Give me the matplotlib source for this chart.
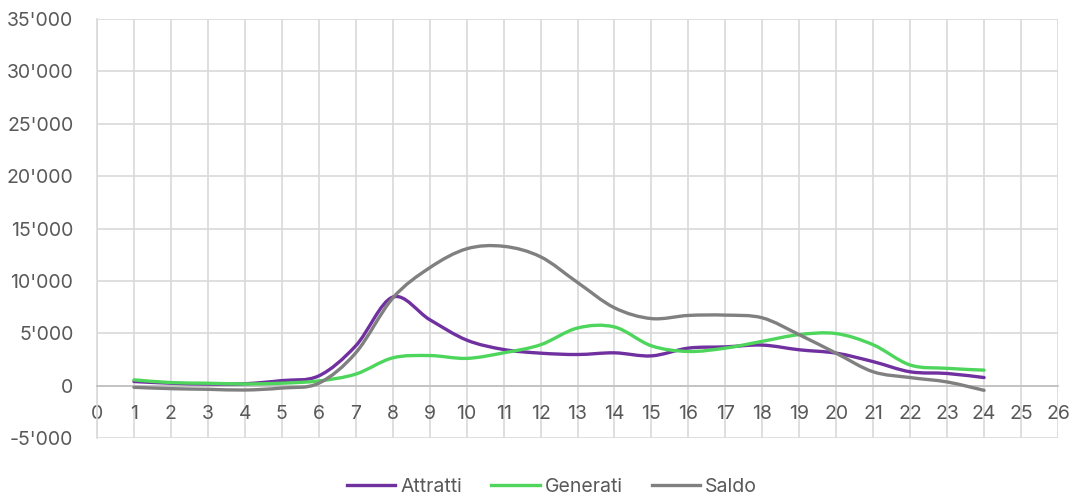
import numpy as np
import matplotlib
matplotlib.use("Agg")
from matplotlib import pyplot as plt
from matplotlib.path import Path
from matplotlib.patches import PathPatch
from matplotlib.lines import Line2D
from matplotlib.ticker import FuncFormatter

plt.rcParams['font.family'] = ['Inter', 'DejaVu Sans']

hours = [1, 2, 3, 4, 5, 6, 7, 8, 9, 10, 11, 12,
         13, 14, 15, 16, 17, 18, 19, 20, 21, 22, 23, 24]
attratti = [390, 230, 150, 180, 480, 930, 3800, 8450, 6300, 4350, 3450, 3100,
            2970, 3130, 2840, 3580, 3700, 3870, 3420, 3100, 2290, 1320, 1160, 770]
generati = [550, 290, 230, 160, 230, 450, 1100, 2650, 2870, 2600, 3130, 3900,
            5500, 5600, 3800, 3260, 3580, 4230, 4870, 4970, 3900, 1970, 1650, 1480]
saldo = [-160, -290, -350, -420, -230, 230, 3130, 8350, 11250, 13060, 13300, 12300,
         9850, 7430, 6400, 6700, 6730, 6470, 4860, 3090, 1320, 770, 350, -450]

series = [("Attratti", attratti, "#7030A0"),
          ("Generati", generati, "#4ED55C"),
          ("Saldo", saldo, "#808080")]


def smooth_path(x, y):
    # Excel style smoothed line: cubic bezier through the points
    pts = np.column_stack([x, y]).astype(float)
    n = len(pts)
    verts = [pts[0]]
    codes = [Path.MOVETO]
    for i in range(n - 1):
        p0 = pts[i - 1] if i > 0 else pts[i]
        p1 = pts[i]
        p2 = pts[i + 1]
        p3 = pts[i + 2] if i + 2 < n else pts[i + 1]
        c1 = p1 + (p2 - p0) / 6.0
        c2 = p2 - (p3 - p1) / 6.0
        verts += [c1, c2, p2]
        codes += [Path.CURVE4] * 3
    return Path(verts, codes)


fig = plt.figure(figsize=(10.76, 4.99), dpi=100)
ax = fig.add_axes([97 / 1076, 1 - 438 / 499, (1058 - 97) / 1076, (438 - 19) / 499])

for name, vals, col in series:
    ax.add_patch(PathPatch(smooth_path(hours, vals), facecolor="none",
                           edgecolor=col, lw=2.4, capstyle="round", zorder=3))

ax.set_xlim(0, 26)
ax.set_ylim(-5000, 35000)
ax.set_xticks(range(0, 27))
ax.set_yticks(range(-5000, 35001, 5000))
ax.yaxis.set_major_formatter(FuncFormatter(lambda v, p: f"{int(v):,}".replace(",", "'")))

ax.grid(True, color="#D9D9D9", lw=1.2, zorder=0)
ax.set_axisbelow(True)
for s in ["top", "right"]:
    ax.spines[s].set_visible(False)
ax.spines["left"].set_color("#D9D9D9")
ax.spines["left"].set_linewidth(1.2)
ax.spines["bottom"].set_position(("data", 0))
ax.spines["bottom"].set_color("#BFBFBF")
ax.spines["bottom"].set_linewidth(1.2)
ax.tick_params(axis="both", length=0, labelsize=14, colors="#595959")
ax.tick_params(axis="x", pad=14)
ax.tick_params(axis="y", pad=17)

handles = [Line2D([], [], color=c, lw=2.4) for _, _, c in series]
fig.legend(handles, [n for n, _, _ in series], loc="center",
           bbox_to_anchor=(552 / 1076, 1 - 487 / 499),
           ncol=3, frameon=False, fontsize=14, labelcolor="#595959",
           handlelength=2.5, handletextpad=0.25, columnspacing=1.5)

fig.savefig("out.png", dpi=100)
